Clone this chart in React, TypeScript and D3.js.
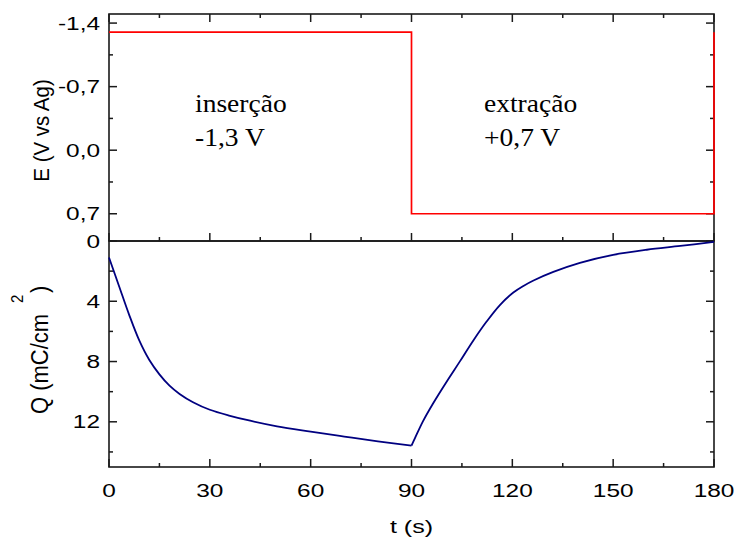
import React from "react";
import * as d3 from "d3";

// ---- data ----
const tE = [0, 90, 90, 180, 180];
const eValues = [-1.3, -1.3, 0.7, 0.7, -1.3];

// insertion (0–90 s)
const tIns = [0, 3, 6, 9, 12, 15, 18, 21, 25, 30, 36, 42, 50, 60, 70, 80, 90];
const qIns = [1.1, 3.0, 4.9, 6.6, 7.9, 8.85, 9.6, 10.15, 10.7, 11.2, 11.6, 11.93, 12.3, 12.65, 12.98, 13.3, 13.58];
// extraction (90–180 s)
const tExt = [90, 91, 93.4, 96.5, 100.5, 104.4, 108.4, 112.4, 116.3, 120.3, 123.3, 126.3, 132.2, 140.1, 150, 160, 170, 180];
const qExt = [13.58, 13.1, 11.97, 10.75, 9.32, 7.99, 6.6, 5.33, 4.25, 3.42, 2.98, 2.62, 2.05, 1.45, 0.92, 0.58, 0.33, 0.06];

const xTicks = [0, 30, 60, 90, 120, 150, 180];
const xMinor = [15, 45, 75, 105, 135, 165];
const eTicks = [-1.4, -0.7, 0, 0.7];
const eMinor = [-1.05, -0.35, 0.35];
const qTicks = [0, 4, 8, 12];
const qMinor = [2, 6, 10, 14];

const annotLeft = ["inserção", "-1,3 V"];
const annotRight = ["extração", "+0,7 V"];

const locale = d3.formatLocale({ decimal: ",", thousands: ".", grouping: [3], currency: ["", ""], minus: "-" });
const fmtE = locale.format(".1f");

const L = 109, R = 714, T = 14, M = 241, B = 467;
const MAJ = 8, MIN = 4;
const sans = "'Liberation Sans', Arial, sans-serif";
const serif = "'Liberation Serif', 'Times New Roman', serif";
const SX = 1.32;
const axisColor = "#1a1a1a";

export default function App() {
  const x = d3.scaleLinear().domain([0, 180]).range([L, R]);
  const yE = d3.scaleLinear().domain([-1.5, 1.0]).range([T, M]);
  const yQ = d3.scaleLinear().domain([0, 15]).range([M, B]);

  const eLine = d3.line<number>().x((_, i) => x(tE[i])).y((d) => yE(d));
  const qPath = (ts: number[], qs: number[]) =>
    d3.line<number>().x((_, i) => x(ts[i])).y((d) => yQ(d)).curve(d3.curveCatmullRom.alpha(0.5))(qs) || "";

  const hTicks = (vals: number[], len: number, y: number, dir: number, key: string) =>
    vals.map((v) => (
      <line key={key + v} x1={x(v)} x2={x(v)} y1={y} y2={y + dir * len} stroke={axisColor} strokeWidth={1.5} />
    ));
  const vTicks = (vals: number[], scale: (v: number) => number, len: number, key: string) =>
    vals.flatMap((v) => [
      <line key={key + "l" + v} x1={L} x2={L + len} y1={scale(v)} y2={scale(v)} stroke={axisColor} strokeWidth={1.5} />,
      <line key={key + "r" + v} x1={R} x2={R - len} y1={scale(v)} y2={scale(v)} stroke={axisColor} strokeWidth={1.5} />,
    ]);

  return (
    <svg width={734} height={543} style={{ position: "absolute", left: 0, top: 0, background: "#fff" }}>
      <rect x={0} y={0} width={734} height={543} fill="#fff" />

      {/* frames */}
      <rect x={L} y={T} width={R - L} height={M - T} fill="none" stroke={axisColor} strokeWidth={1.6} />
      <rect x={L} y={M} width={R - L} height={B - M} fill="none" stroke={axisColor} strokeWidth={1.6} />

      {/* ticks top panel */}
      {hTicks(xTicks, MAJ, T, 1, "tt")}
      {hTicks(xMinor, MIN, T, 1, "ttm")}
      {hTicks(xTicks, MAJ, M, -1, "tb")}
      {hTicks(xMinor, MIN, M, -1, "tbm")}
      {vTicks(eTicks, yE, MAJ, "e")}
      {vTicks(eMinor, yE, MIN, "em")}
      {/* ticks bottom panel */}
      {hTicks(xTicks, MAJ, B, -1, "bb")}
      {hTicks(xMinor, MIN, B, -1, "bbm")}
      {vTicks(qTicks, yQ, MAJ, "q")}
      {vTicks(qMinor, yQ, MIN, "qm")}

      {/* data */}
      <path d={eLine(eValues) || ""} fill="none" stroke="#ff0000" strokeWidth={1.7} />
      <path d={qPath(tIns, qIns)} fill="none" stroke="#000080" strokeWidth={1.8} />
      <path d={qPath(tExt, qExt)} fill="none" stroke="#000080" strokeWidth={1.8} />

      {/* tick labels */}
      {eTicks.map((v) => (
        <text key={"el" + v} transform={`translate(100,${yE(v) + 6.6}) scale(${SX},1)`} textAnchor="end"
          fontFamily={sans} fontSize={18.5} fill="#000">{fmtE(v)}</text>
      ))}
      {qTicks.map((v) => (
        <text key={"ql" + v} transform={`translate(100,${yQ(v) + 6.6}) scale(${SX},1)`} textAnchor="end"
          fontFamily={sans} fontSize={18.5} fill="#000">{String(v)}</text>
      ))}
      {xTicks.map((v) => (
        <text key={"xl" + v} transform={`translate(${x(v)},497) scale(${SX},1)`} textAnchor="middle"
          fontFamily={sans} fontSize={18.5} fill="#000">{String(v)}</text>
      ))}

      {/* axis titles */}
      <text transform={`translate(${x(90)},533) scale(${SX},1)`} textAnchor="middle" fontFamily={sans} fontSize={19} fill="#000">t (s)</text>
      <text transform="translate(49,130.5) scale(1.1,1) rotate(-90)" textAnchor="middle" fontFamily={sans} fontSize={20.5} fill="#000">E (V vs Ag)</text>
      <text transform="translate(48,414) scale(1.1,1) rotate(-90)" textAnchor="start" fontFamily={sans} fontSize={22} fill="#000">Q (mC/cm</text>
      <text transform="translate(23,303) scale(1.1,1) rotate(-90)" textAnchor="start" fontFamily={sans} fontSize={15} fill="#000">2</text>
      <text transform="translate(48,293) scale(1.1,1) rotate(-90)" textAnchor="start" fontFamily={sans} fontSize={22} fill="#000">)</text>

      {/* annotations */}
      {annotLeft.map((s, i) => (
        <text key={"al" + i} transform={`translate(195,${112 + i * 34}) scale(1.08,1)`} fontFamily={serif} fontSize={25.5} fill="#000">{s}</text>
      ))}
      {annotRight.map((s, i) => (
        <text key={"ar" + i} transform={`translate(484,${112 + i * 34}) scale(1.08,1)`} fontFamily={serif} fontSize={25.5} fill="#000">{s}</text>
      ))}
    </svg>
  );
}
